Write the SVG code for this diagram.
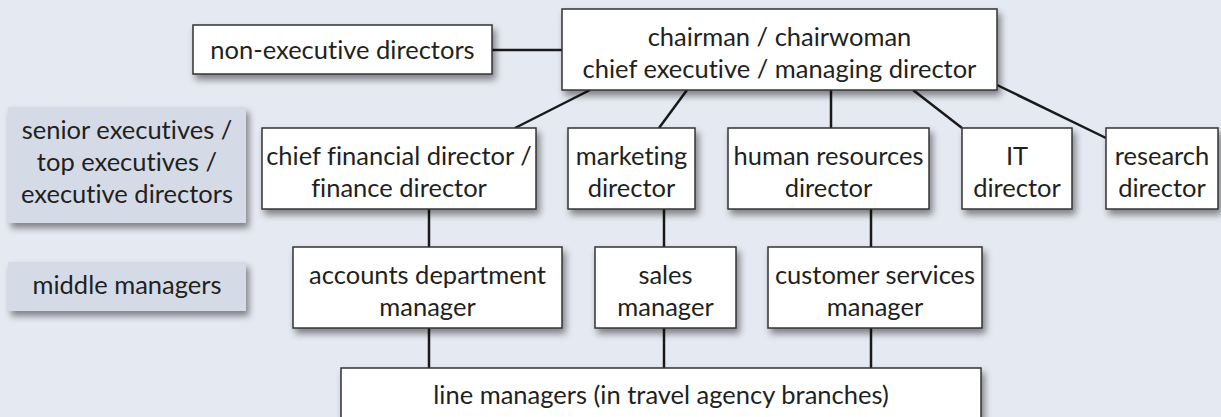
<svg xmlns="http://www.w3.org/2000/svg" width="1221" height="417" viewBox="0 0 1221 417">
<defs>
<filter id="sh" x="-10%" y="-20%" width="130%" height="160%">
<feDropShadow dx="3" dy="5" stdDeviation="3.5" flood-color="#000" flood-opacity="0.45"/>
</filter>
<style>
.box{fill:#fff;stroke:#333;stroke-width:1.5;filter:url(#sh)}
.lab{fill:#d4dbe7;stroke:none;filter:url(#sh)}
.t{font-family:Lato,"Liberation Sans",sans-serif;font-size:25.5px;fill:#231f20;text-anchor:middle;font-variant-ligatures:none;font-feature-settings:"liga" 0,"clig" 0}
.c{stroke:#1a1a1a;stroke-width:2.5;fill:none}
</style>
</defs>
<rect width="1221" height="417" fill="#e5e9f1"/>
<g id="connectors">
<line class="c" x1="492" y1="50" x2="562" y2="50"/>
<line class="c" x1="590" y1="90" x2="515" y2="128"/>
<line class="c" x1="687" y1="90" x2="659" y2="128"/>
<line class="c" x1="831" y1="90" x2="831" y2="128"/>
<line class="c" x1="913" y1="90" x2="962" y2="128"/>
<line class="c" x1="997" y1="85" x2="1106" y2="138"/>
<line class="c" x1="429" y1="209" x2="429" y2="247"/>
<line class="c" x1="664" y1="209" x2="664" y2="247"/>
<line class="c" x1="871" y1="209" x2="871" y2="247"/>
<line class="c" x1="429" y1="328" x2="429" y2="368"/>
<line class="c" x1="664" y1="328" x2="664" y2="368"/>
<line class="c" x1="871" y1="328" x2="871" y2="368"/>
</g>
<g id="senior-label">
<rect class="lab" x="8" y="107" width="238" height="116"/>
<text class="t" x="127" y="139">senior executives /</text>
<text class="t" x="127" y="171">top executives /</text>
<text class="t" x="127" y="203">executive directors</text>
</g>
<g id="middle-label">
<rect class="lab" x="8" y="262" width="238" height="49"/>
<text class="t" x="127" y="294">middle managers</text>
</g>
<g id="non-exec">
<rect class="box" x="193" y="25" width="299" height="49"/>
<text class="t" x="342.5" y="59">non-executive directors</text>
</g>
<g id="chairman">
<rect class="box" x="562" y="9" width="435" height="81"/>
<text class="t" x="779.5" y="46">chairman / chairwoman</text>
<text class="t" x="779.5" y="78">chief executive / managing director</text>
</g>
<g id="cfo">
<rect class="box" x="262" y="128" width="274" height="81"/>
<text class="t" x="399" y="165">chief financial director /</text>
<text class="t" x="399" y="197">finance director</text>
</g>
<g id="marketing">
<rect class="box" x="568" y="128" width="127" height="81"/>
<text class="t" x="631.5" y="165">marketing</text>
<text class="t" x="631.5" y="197">director</text>
</g>
<g id="hr">
<rect class="box" x="728" y="128" width="201" height="81"/>
<text class="t" x="828.5" y="165">human resources</text>
<text class="t" x="828.5" y="197">director</text>
</g>
<g id="it">
<rect class="box" x="962" y="128" width="110" height="81"/>
<text class="t" x="1017" y="165">IT</text>
<text class="t" x="1017" y="197">director</text>
</g>
<g id="research">
<rect class="box" x="1106" y="128" width="112" height="81"/>
<text class="t" x="1162" y="165">research</text>
<text class="t" x="1162" y="197">director</text>
</g>
<g id="accounts">
<rect class="box" x="293" y="247" width="269" height="81"/>
<text class="t" x="427.5" y="284">accounts department</text>
<text class="t" x="427.5" y="316">manager</text>
</g>
<g id="sales">
<rect class="box" x="595" y="247" width="141" height="81"/>
<text class="t" x="665.5" y="284">sales</text>
<text class="t" x="665.5" y="316">manager</text>
</g>
<g id="customer">
<rect class="box" x="768" y="247" width="214" height="81"/>
<text class="t" x="875" y="284">customer services</text>
<text class="t" x="875" y="316">manager</text>
</g>
<g id="line-managers">
<rect class="box" x="341" y="368" width="640" height="70"/>
<text class="t" x="661" y="404">line managers (in travel agency branches)</text>
</g>
</svg>
